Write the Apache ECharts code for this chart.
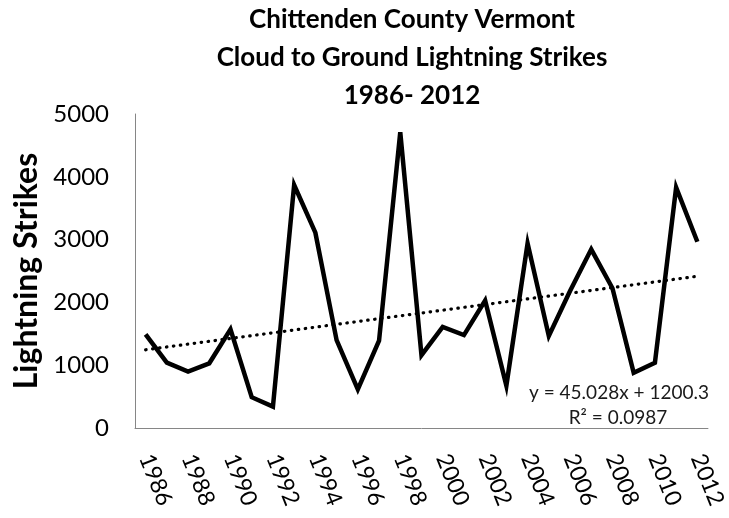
<!DOCTYPE html>
<html>
<head>
<meta charset="utf-8">
<script src="https://cdn.jsdelivr.net/npm/echarts@6/dist/echarts.min.js"></script>
<style>
  html, body { margin: 0; padding: 0; background: #fff; }
  #chart { width: 729px; height: 518px; }
</style>
</head>
<body>
<div id="chart"></div>
<script>
var years = ['1986', '1987', '1988', '1989', '1990', '1991', '1992', '1993', '1994',
             '1995', '1996', '1997', '1998', '1999', '2000', '2001', '2002', '2003',
             '2004', '2005', '2006', '2007', '2008', '2009', '2010', '2011', '2012'];
var strikes = [1490, 1040, 900, 1030, 1570, 490, 340, 3870, 3110,
               1400, 615, 1390, 4710, 1160, 1610, 1480, 2030, 675,
               2940, 1465, 2180, 2845, 2225, 880, 1040, 3830, 2965];
// linear trend end points (Excel: y = 45.028x + 1200.3, x = 1..27)
var trendEnds = [1245.3, 2416.1];
var yTicks = { min: 0, max: 5000, step: 1000 };

var myChart = echarts.init(document.getElementById('chart'));
var font = 'Lato, "Noto Sans", sans-serif';

myChart.setOption({
    animation: false,
    title: {
        text: 'Chittenden County Vermont\nCloud to Ground Lightning Strikes\n1986- 2012',
        left: 407,
        top: -4,
        textAlign: 'center',
        textStyle: {
            fontFamily: font,
            fontWeight: 'bold',
            fontSize: 26,
            lineHeight: 38,
            color: '#000'
        }
    },
    grid: { left: 135, right: 14, top: 114, bottom: 90 },
    xAxis: {
        type: 'category',
        data: years,
        boundaryGap: true,
        axisLine: { lineStyle: { color: '#868686', width: 1 } },
        axisTick: { show: false },
        axisLabel: {
            interval: 1,
            rotate: -68,
            margin: 27,
            fontFamily: font,
            fontSize: 23,
            color: '#000'
        }
    },
    yAxis: {
        type: 'value',
        min: yTicks.min,
        max: yTicks.max,
        interval: yTicks.step,
        name: 'Lightning Strikes',
        nameLocation: 'middle',
        nameRotate: 90,
        nameGap: 92,
        nameTextStyle: {
            fontFamily: font,
            fontWeight: 'bold',
            fontSize: 32,
            color: '#000'
        },
        splitLine: { show: false },
        axisLine: { show: true, lineStyle: { color: '#868686', width: 1 } },
        axisTick: { show: false },
        axisLabel: {
            margin: 26,
            fontFamily: font,
            fontSize: 24,
            color: '#000',
            formatter: function (v) { return String(v); }
        }
    },
    series: [{
        name: 'Lightning Strikes',
        type: 'line',
        data: strikes,
        symbol: 'none',
        lineStyle: { color: '#000', width: 4.5, join: 'miter' },
        markLine: {
            silent: true,
            symbol: 'none',
            label: { show: false },
            lineStyle: { color: '#000', width: 3.2, type: [0.5, 6.5], cap: 'round' },
            data: [[
                { coord: [years[0], trendEnds[0]] },
                { coord: [years[years.length - 1], trendEnds[1]] }
            ]]
        }
    }],
    graphic: [
        {
            type: 'text',
            x: 619, y: 393,
            style: {
                text: 'y = 45.028x + 1200.3',
                textAlign: 'center', textVerticalAlign: 'middle',
                fontFamily: font, fontSize: 19, fill: '#1a1a1a'
            }
        },
        {
            type: 'text',
            x: 618, y: 418,
            style: {
                text: 'R² = 0.0987',
                textAlign: 'center', textVerticalAlign: 'middle',
                fontFamily: font, fontSize: 19, fill: '#1a1a1a'
            }
        }
    ]
});
</script>
</body>
</html>
